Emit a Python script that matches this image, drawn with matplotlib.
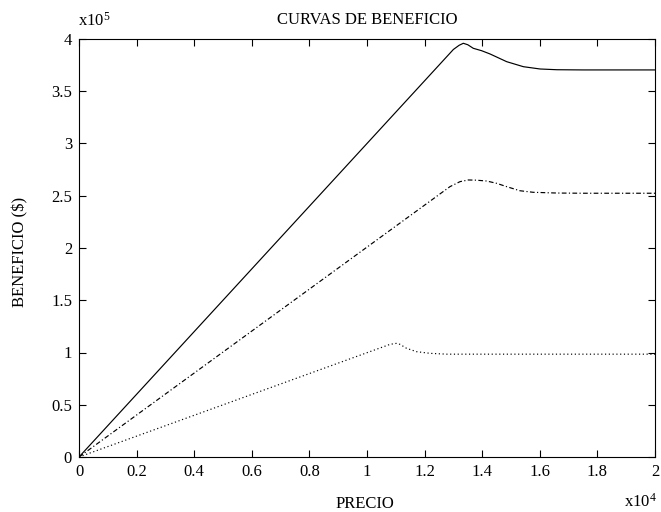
import matplotlib
matplotlib.use('Agg')
import matplotlib.pyplot as plt

# curve 1 (solid)
precio_1 = [0, 13000, 13200, 13345, 13500, 13690, 13980, 14270, 14850, 15430, 16010, 16590, 17500, 20000]
benef_1 = [0, 390000, 394000, 395900, 394500, 391100, 388800, 385700, 378300, 373500, 371300, 370600, 370400, 370400]

# curve 2 (dash-dot)
precio_2 = [0, 12880, 13230, 13520, 13800, 14155, 14500, 14850, 15310, 15770, 16590, 17500, 20000]
benef_2 = [0, 258700, 263500, 265100, 264900, 264100, 261900, 258700, 254800, 253300, 252600, 252400, 252400]

# curve 3 (dotted)
precio_3 = [0, 10800, 11030, 11145, 11375, 11720, 12190, 12770, 20000]
benef_3 = [0, 107800, 108800, 107800, 104000, 100800, 99200, 98400, 98400]

x_ticks = [0, 0.2, 0.4, 0.6, 0.8, 1.0, 1.2, 1.4, 1.6, 1.8, 2.0]
y_ticks = [0, 0.5, 1.0, 1.5, 2.0, 2.5, 3.0, 3.5, 4.0]

plt.rcParams['font.family'] = 'Liberation Serif'
plt.rcParams['mathtext.fontset'] = 'custom'
plt.rcParams['mathtext.rm'] = 'Liberation Serif'
plt.rcParams['mathtext.it'] = 'Liberation Serif'
plt.rcParams['font.size'] = 12

fig = plt.figure(figsize=(6.61, 5.12), dpi=100)
ax = fig.add_axes([79/661, 1-457/512, 576/661, 418/512])

lw = 0.85
ax.plot(precio_1, benef_1, color='black', linewidth=lw, linestyle='-')
ax.plot(precio_2, benef_2, color='black', linewidth=lw, linestyle=(0, (4, 2, 1, 2)))
ax.plot(precio_3, benef_3, color='black', linewidth=lw, linestyle=(0, (1, 2.2)))

ax.set_xlim(0, 20000)
ax.set_ylim(0, 400000)
ax.set_xticks([t*1e4 for t in x_ticks])
ax.set_xticklabels(['%g' % t for t in x_ticks])
ax.set_yticks([t*1e5 for t in y_ticks])
ax.set_yticklabels(['%g' % t for t in y_ticks])
ax.tick_params(direction='in', top=True, right=True, length=5, width=0.8, pad=5, labelsize=12)
for s in ax.spines.values():
    s.set_linewidth(0.8)

fig.text(367/661, 1-20/512, 'CURVAS DE BENEFICIO', ha='center', va='center', fontsize=12)
fig.text(365/661, 1-504/512, 'PRECIO', ha='center', va='center', fontsize=12)
fig.text(20/661, 1-252/512, 'BENEFICIO ($)', ha='center', va='center', rotation=90, fontsize=12)
fig.text(78/661, 1-21/512, r'x10$^5$', ha='left', va='center', fontsize=12)
fig.text(657/661, 1-502/512, r'x10$^4$', ha='right', va='center', fontsize=12)

fig.savefig('out.png', dpi=100)
